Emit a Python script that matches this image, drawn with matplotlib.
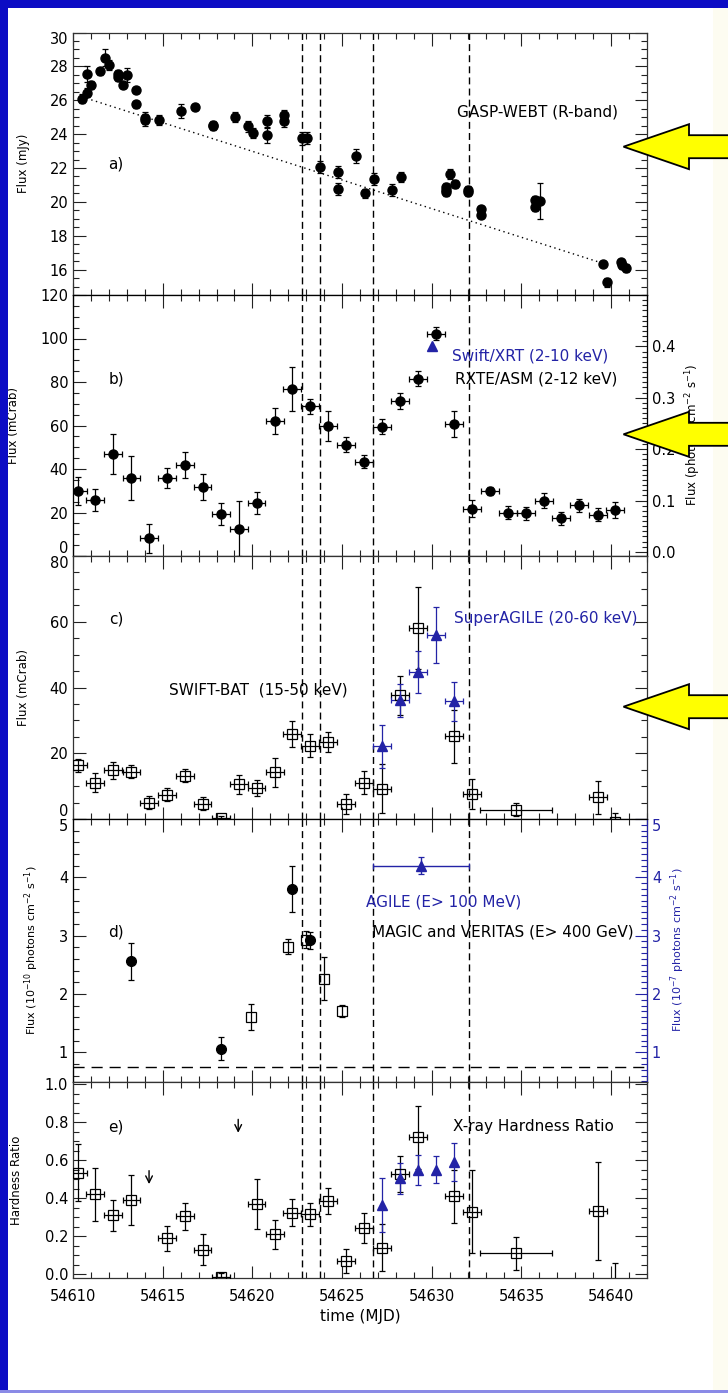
import numpy as np
import matplotlib
matplotlib.use("Agg")
import matplotlib.pyplot as plt
from matplotlib.ticker import MultipleLocator, FormatStrFormatter
from matplotlib.patches import Polygon, Rectangle

plt.rcParams["font.family"] = ["DejaVu Sans"]

# ---------------------------------------------------------------- data
# a) GASP-WEBT R-band optical flux (mJy)
gasp_mjd = [54610.50, 54610.76, 54610.79, 54611.02, 54611.51, 54611.77, 54612.00,
            54612.52, 54612.52, 54612.76, 54613.02, 54613.52, 54613.52, 54614.03,
            54614.03, 54614.78, 54616.03, 54616.78, 54617.79, 54617.79, 54619.03,
            54619.78, 54620.02, 54620.79, 54620.79, 54621.78, 54621.78, 54622.76,
            54623.02, 54623.77, 54624.78, 54624.78, 54625.80, 54626.29, 54626.78,
            54627.79, 54628.29, 54630.77, 54630.77, 54630.77, 54631.03, 54631.29,
            54632.02, 54632.02, 54632.77, 54632.77, 54635.78, 54635.78, 54636.06,
            54639.56, 54639.79, 54640.54, 54640.60, 54640.81]
gasp_flux = [26.10, 26.45, 27.55, 26.90, 27.70, 28.50, 28.10,
             27.55, 27.40, 26.90, 27.50, 26.60, 25.75, 24.95,
             24.85, 24.85, 25.35, 25.60, 24.55, 24.45, 25.00,
             24.45, 24.05, 24.75, 23.95, 25.10, 24.75, 23.75,
             23.75, 22.05, 21.75, 20.75, 22.70, 20.50, 21.35,
             20.70, 21.45, 20.85, 20.70, 20.60, 21.65, 21.05,
             20.70, 20.60, 19.55, 19.25, 20.10, 19.70, 20.05,
             16.35, 15.25, 16.45, 16.25, 16.10]
gasp_err = [0.25, 0.25, 0.50, 0.25, 0.20, 0.50, 0.30,
            0.25, 0.25, 0.20, 0.40, 0.20, 0.20, 0.35,
            0.35, 0.30, 0.40, 0.15, 0.20, 0.20, 0.30,
            0.35, 0.30, 0.40, 0.45, 0.35, 0.35, 0.40,
            0.35, 0.35, 0.35, 0.35, 0.40, 0.25, 0.35,
            0.35, 0.30, 0.25, 0.25, 0.25, 0.30, 0.25,
            0.25, 0.25, 0.20, 0.20, 0.25, 0.25, 1.05,
            0.15, 0.25, 0.20, 0.20, 0.25]
# linear decay of the optical baseline
trend_mjd = [54610.5, 54639.6]
trend_flux = [26.2, 16.35]

# b) RXTE/ASM 2-12 keV (mCrab), daily bins
asm_mjd = [54610.27, 54611.23, 54612.22, 54613.26, 54614.24, 54615.23, 54616.24,
           54617.22, 54618.26, 54619.24, 54620.23, 54621.24, 54622.22, 54623.23,
           54624.24, 54625.23, 54626.24, 54627.25, 54628.23, 54629.24, 54630.23,
           54631.24, 54632.24, 54633.23, 54634.24, 54635.23, 54636.24, 54637.22,
           54638.23, 54639.25, 54640.24]
asm_flux = [30.0, 25.7, 46.9, 35.9, 8.1, 35.7, 41.8,
            31.9, 19.3, 12.6, 24.5, 62.1, 76.8, 68.8,
            59.8, 51.2, 43.4, 59.5, 71.3, 81.5, 102.1,
            60.8, 21.8, 29.9, 19.8, 19.6, 25.4, 17.3,
            23.3, 18.9, 21.1]
asm_err = [6.5, 5.0, 9.0, 10.0, 6.7, 4.6, 6.0,
           6.0, 5.0, 12.5, 5.0, 6.0, 10.0, 3.5,
           7.0, 3.5, 3.0, 3.5, 3.5, 3.5, 3.0,
           6.0, 4.0, 2.0, 3.0, 3.0, 3.5, 3.0,
           3.0, 3.0, 3.5]
asm_binhalf = 0.5
# Swift/XRT 2-10 keV (photons cm^-2 s^-1)
xrt_mjd = [54630.0]
xrt_flux = [0.40]

# c) SWIFT-BAT 15-50 keV (mCrab)
bat_mjd = [54610.27, 54611.23, 54612.22, 54613.26, 54614.24, 54615.23, 54616.24,
           54617.22, 54618.26, 54619.24, 54620.23, 54621.24, 54622.22, 54623.23,
           54624.24, 54625.23, 54626.24, 54627.25, 54628.23, 54629.24, 54631.24,
           54632.24, 54634.70, 54639.25, 54640.24]
bat_flux = [16.3, 11.1, 14.8, 14.4, 4.9, 7.4, 13.2,
            4.7, 0.3, 10.5, 9.5, 14.2, 25.9, 22.3,
            23.4, 4.6, 11.1, 9.2, 37.6, 58.1, 25.1,
            7.6, 2.8, 6.6, -1.0]
bat_err = [2.0, 3.0, 2.5, 2.0, 2.0, 2.0, 2.0,
           2.0, 0.5, 3.0, 2.5, 4.5, 4.0, 3.5,
           3.0, 3.0, 3.5, 7.5, 6.0, 12.5, 8.0,
           4.5, 2.0, 5.0, 2.8]
bat_xerr = [0.5] * 22 + [2.0, 0.5, 0.5]
# SuperAGILE 20-60 keV (mCrab)
sa_mjd = [54627.25, 54628.23, 54629.24, 54630.23, 54631.24]
sa_flux = [22.1, 36.1, 44.7, 56.0, 35.8]
sa_err = [6.6, 5.0, 6.5, 8.5, 6.0]

# d) MAGIC (E > 400 GeV, 1e-10 ph cm^-2 s^-1)
magic_mjd = [54613.26, 54618.26, 54622.22, 54623.23]
magic_flux = [2.56, 1.06, 3.80, 2.92]
magic_err = [0.32, 0.20, 0.39, 0.15]
# VERITAS (E > 400 GeV)
veritas_mjd = [54619.94, 54621.96, 54622.97, 54623.98, 54624.99]
veritas_flux = [1.60, 2.81, 2.93, 2.26, 1.71]
veritas_err = [0.22, 0.13, 0.15, 0.37, 0.10]
# AGILE (E > 100 MeV, 1e-7 ph cm^-2 s^-1), one integration window
agile_mjd = [54629.40]
agile_flux = [4.20]
agile_err = [0.15]
agile_xerr = [2.67]
crab_level = 0.75

# e) X-ray hardness ratio
hr_mjd = [54610.27, 54611.23, 54612.22, 54613.26, 54615.25, 54616.24, 54617.22,
          54618.26, 54620.23, 54621.24, 54622.22, 54623.23, 54624.24, 54625.23,
          54626.24, 54627.25, 54628.23, 54629.24, 54631.24, 54632.24, 54634.70,
          54639.25, 54640.24]
hr_val = [0.535, 0.42, 0.31, 0.39, 0.19, 0.305, 0.13,
          -0.015, 0.37, 0.21, 0.325, 0.315, 0.385, 0.07,
          0.245, 0.14, 0.53, 0.72, 0.41, 0.33, 0.11,
          0.333, -0.08]
hr_err = [0.15, 0.14, 0.08, 0.13, 0.065, 0.07, 0.08,
          0.02, 0.13, 0.075, 0.07, 0.06, 0.07, 0.065,
          0.08, 0.125, 0.095, 0.165, 0.14, 0.22, 0.085,
          0.26, 0.14]
hr_xerr = [0.5] * 20 + [2.0, 0.5, 0.5]
sa_hr_mjd = [54627.25, 54628.23, 54629.24, 54630.23, 54631.24]
sa_hr_val = [0.365, 0.505, 0.55, 0.55, 0.59]
sa_hr_err = [0.14, 0.08, 0.08, 0.07, 0.10]
ul_mjd = [54614.24, 54619.21]
ul_val = [0.56, 0.83]

# epochs marked in every panel
epochs = [54622.75, 54623.75, 54626.75, 54632.1]

# ---------------------------------------------------------------- style
W, H = 728, 1393
BLUE = "#2323a6"
FRAME = "#0c0cc4"
TXT = 11
TICK = 10.5

fig = plt.figure(figsize=(W / 100, H / 100), dpi=100)
fig.patch.set_facecolor("white")
fig.add_artist(Rectangle((713 / W, 0), 15 / W, 1, transform=fig.transFigure,
                         facecolor="#fdfcf1", edgecolor="none", zorder=-4))

X0, X1 = 73, 647


def panel(top, bottom):
    return fig.add_axes([X0 / W, 1 - bottom / H, (X1 - X0) / W, (bottom - top) / H])


def yticks_fixed(ax, lo, hi, step, top_va=None, bottom_va=None):
    ticks = np.arange(lo, hi + step / 2, step)
    ax.set_yticks(ticks)
    labels = ax.get_yticklabels()
    if top_va:
        labels[-1].set_va(top_va)
    if bottom_va:
        labels[0].set_va(bottom_va)


def style(ax, ymin, ymax, minor, fmt, right=True, xlabels=False):
    ax.set_xlim(54610, 54642)
    ax.set_ylim(ymin, ymax)
    ax.xaxis.set_major_locator(MultipleLocator(5))
    ax.xaxis.set_minor_locator(MultipleLocator(1))
    ax.xaxis.set_major_formatter(FormatStrFormatter("%d"))
    ax.yaxis.set_minor_locator(MultipleLocator(minor))
    ax.yaxis.set_major_formatter(FormatStrFormatter(fmt))
    ax.tick_params(which="both", direction="in", top=True, right=right,
                   labelsize=TICK, color="#222222", width=0.8)
    ax.tick_params(which="major", length=9)
    ax.tick_params(which="minor", length=4.5)
    ax.tick_params(axis="x", labelbottom=xlabels, pad=8)
    for s in ax.spines.values():
        s.set_color("#333333")
        s.set_linewidth(0.9)
    for e in epochs:
        ax.axvline(e, color="black", lw=1.0, ls=(0, (5, 3)), zorder=1)


def ylab(ax, text, x, size=8.5, color="black", y=0.5):
    ax.set_ylabel(text, fontsize=size, color=color, va="center")
    ax.yaxis.set_label_coords(x, y)


ekw = dict(elinewidth=0.9, capsize=2, capthick=0.9, zorder=3)

# ---------------------------------------------------------------- a)
ax_a = panel(32.5, 295)
style(ax_a, 14.5, 30, 0.5, "%d")
yticks_fixed(ax_a, 16, 30, 2, top_va="top")
ax_a.plot(trend_mjd, trend_flux, ls=(0, (1, 2.5)), color="black", lw=1.0, zorder=2)
ax_a.errorbar(gasp_mjd, gasp_flux, yerr=gasp_err, fmt="o", color="black",
              ms=6.5, **ekw)
ax_a.text(0.075, 0.499, "a)", transform=ax_a.transAxes, fontsize=TXT,
          ha="center", va="center")
ax_a.text(0.809, 0.696, "GASP-WEBT (R-band)", transform=ax_a.transAxes,
          fontsize=TXT, ha="center", va="center")
ylab(ax_a, "Flux (mJy)", -0.087)

# ---------------------------------------------------------------- b)
ax_b = panel(295, 556)
style(ax_b, 0, 120, 5, "%d", right=False)
yticks_fixed(ax_b, 0, 120, 20, bottom_va="bottom")
ax_b.errorbar(asm_mjd, asm_flux, yerr=asm_err, xerr=asm_binhalf, fmt="o",
              color="black", ms=6.5, **ekw)
ax_b2 = ax_b.twinx()
ax_b2.set_ylim(-0.008, 0.5)
ax_b2.set_yticks(np.arange(0, 0.45, 0.1))
ax_b2.yaxis.set_minor_locator(MultipleLocator(0.01))
ax_b2.yaxis.set_major_formatter(FormatStrFormatter("%.1f"))
ax_b2.tick_params(which="both", direction="in", labelsize=TICK, color="#222222",
                  width=0.8)
ax_b2.tick_params(which="major", length=9)
ax_b2.tick_params(which="minor", length=3.5)
ax_b2.plot(xrt_mjd, xrt_flux, ls="none", marker="^", color=BLUE, ms=7, zorder=4)
ax_b.text(0.075, 0.678, "b)", transform=ax_b.transAxes, fontsize=TXT,
          ha="center", va="center")
ax_b.text(0.796, 0.766, "Swift/XRT (2-10 keV)", transform=ax_b.transAxes,
          fontsize=TXT, ha="center", va="center", color=BLUE)
ax_b.text(0.807, 0.679, "RXTE/ASM (2-12 keV)", transform=ax_b.transAxes,
          fontsize=TXT, ha="center", va="center")
ylab(ax_b, "Flux (mCrab)", -0.1045)
ax_b2.set_ylabel(r"Flux (photons cm$^{-2}$ s$^{-1}$)", fontsize=8.5,
                 va="center", rotation=90)
ax_b2.yaxis.set_label_coords(1.080, 0.464)

# ---------------------------------------------------------------- c)
ax_c = panel(556, 819)
style(ax_c, 0, 80, 5, "%d")
yticks_fixed(ax_c, 0, 80, 20, top_va="top", bottom_va="bottom")
ax_c.errorbar(bat_mjd, bat_flux, yerr=bat_err, xerr=bat_xerr, fmt="s",
              color="black", mfc="none", ms=6.5, mew=0.9, **ekw)
ax_c.errorbar(sa_mjd, sa_flux, yerr=sa_err, xerr=0.5, fmt="^", color=BLUE,
              ms=7.5, **ekw)
ax_c.text(0.075, 0.760, "c)", transform=ax_c.transAxes, fontsize=TXT,
          ha="center", va="center")
ax_c.text(0.823, 0.763, "SuperAGILE (20-60 keV)", transform=ax_c.transAxes,
          fontsize=TXT, ha="center", va="center", color=BLUE)
ax_c.text(0.323, 0.489, "SWIFT-BAT  (15-50 keV)", transform=ax_c.transAxes,
          fontsize=TXT, ha="center", va="center")
ylab(ax_c, "Flux (mCrab)", -0.087)

# ---------------------------------------------------------------- d)
ax_d = panel(819, 1082)
style(ax_d, 0.49, 5, 0.2, "%d", right=False)
yticks_fixed(ax_d, 1, 5, 1, top_va="top")
ax_d.axhline(crab_level, color="black", lw=1.0, ls=(0, (8, 5)), zorder=1)
ax_d.errorbar(magic_mjd, magic_flux, yerr=magic_err, fmt="o", color="black",
              ms=7, **ekw)
ax_d.errorbar(veritas_mjd, veritas_flux, yerr=veritas_err, fmt="s",
              color="black", mfc="none", ms=7, mew=0.9, **ekw)
ax_d2 = ax_d.twinx()
ax_d2.set_ylim(0.49, 5)
ax_d2.yaxis.set_minor_locator(MultipleLocator(0.1))
ax_d2.yaxis.set_major_formatter(FormatStrFormatter("%d"))
yticks_fixed(ax_d2, 1, 5, 1)
ax_d2.get_yticklabels()[-1].set_va("top")
ax_d2.tick_params(which="both", direction="in", labelsize=TICK, color=BLUE,
                  labelcolor=BLUE, width=0.8)
ax_d2.tick_params(which="major", length=9)
ax_d2.tick_params(which="minor", length=4)
ax_d2.spines["right"].set_color(BLUE)
ax_d2.errorbar(agile_mjd, agile_flux, yerr=agile_err, xerr=agile_xerr, fmt="^",
               color=BLUE, ms=7, elinewidth=1.0, capsize=2, capthick=0.9,
               zorder=4)
ax_d.text(0.075, 0.571, "d)", transform=ax_d.transAxes, fontsize=TXT,
          ha="center", va="center")
ax_d.text(0.645, 0.686, "AGILE (E> 100 MeV)", transform=ax_d.transAxes,
          fontsize=TXT, ha="center", va="center", color=BLUE)
ax_d.text(0.7485, 0.571, "MAGIC and VERITAS (E> 400 GeV)",
          transform=ax_d.transAxes, fontsize=TXT, ha="center", va="center")
ylab(ax_d, r"Flux (10$^{-10}$ photons cm$^{-2}$ s$^{-1}$)", -0.072, size=8)
ax_d2.set_ylabel(r"Flux (10$^{-7}$ photons cm$^{-2}$ s$^{-1}$)", fontsize=8,
                 color=BLUE, va="center", rotation=90)
ax_d2.yaxis.set_label_coords(1.053, 0.502)

# ---------------------------------------------------------------- e)
ax_e = panel(1082, 1277.7)
style(ax_e, -0.018, 1.012, 0.05, "%.1f", xlabels=True)
yticks_fixed(ax_e, 0, 1.0, 0.2)
ax_e.errorbar(hr_mjd, hr_val, yerr=hr_err, xerr=hr_xerr, fmt="s",
              color="black", mfc="none", ms=6.5, mew=0.9, **ekw)
ax_e.errorbar(sa_hr_mjd, sa_hr_val, yerr=sa_hr_err, fmt="^", color=BLUE,
              ms=7, **ekw)
for xm, ym in zip(ul_mjd, ul_val):
    ax_e.annotate("", xy=(xm, ym - 0.1), xytext=(xm, ym),
                  arrowprops=dict(arrowstyle="->", lw=1.0, color="black",
                                  mutation_scale=12))
ax_e.text(0.075, 0.772, "e)", transform=ax_e.transAxes, fontsize=TXT,
          ha="center", va="center")
ax_e.text(0.803, 0.772, "X-ray Hardness Ratio", transform=ax_e.transAxes,
          fontsize=TXT, ha="center", va="center")
ylab(ax_e, "Hardness Ratio", -0.0993)
ax_e.set_xlabel("time (MJD)", fontsize=TXT, labelpad=4)

# ---------------------------------------------------------------- frame and pointers
deco = fig.add_axes([0, 0, 1, 1], zorder=20)
deco.set_xlim(0, W)
deco.set_ylim(H, 0)
deco.axis("off")
deco.add_patch(Rectangle((0, 0), 8, H, facecolor=FRAME, edgecolor="none"))
deco.add_patch(Rectangle((0, 0), W, 8, facecolor=FRAME, edgecolor="none"))
deco.add_patch(Rectangle((0, H - 3), W, 3, facecolor="#8a8ae6", edgecolor="none"))
for yc in (146.7, 434.3, 706.7):
    pts = [(623.5, yc), (689, yc - 22.5), (689, yc - 11.5), (740, yc - 11.5),
           (740, yc + 11.5), (689, yc + 11.5), (689, yc + 22.5)]
    deco.add_patch(Polygon(pts, closed=True, facecolor="#ffff00",
                           edgecolor="black", lw=1.3, clip_on=False))

fig.savefig("out.png", dpi=100)
